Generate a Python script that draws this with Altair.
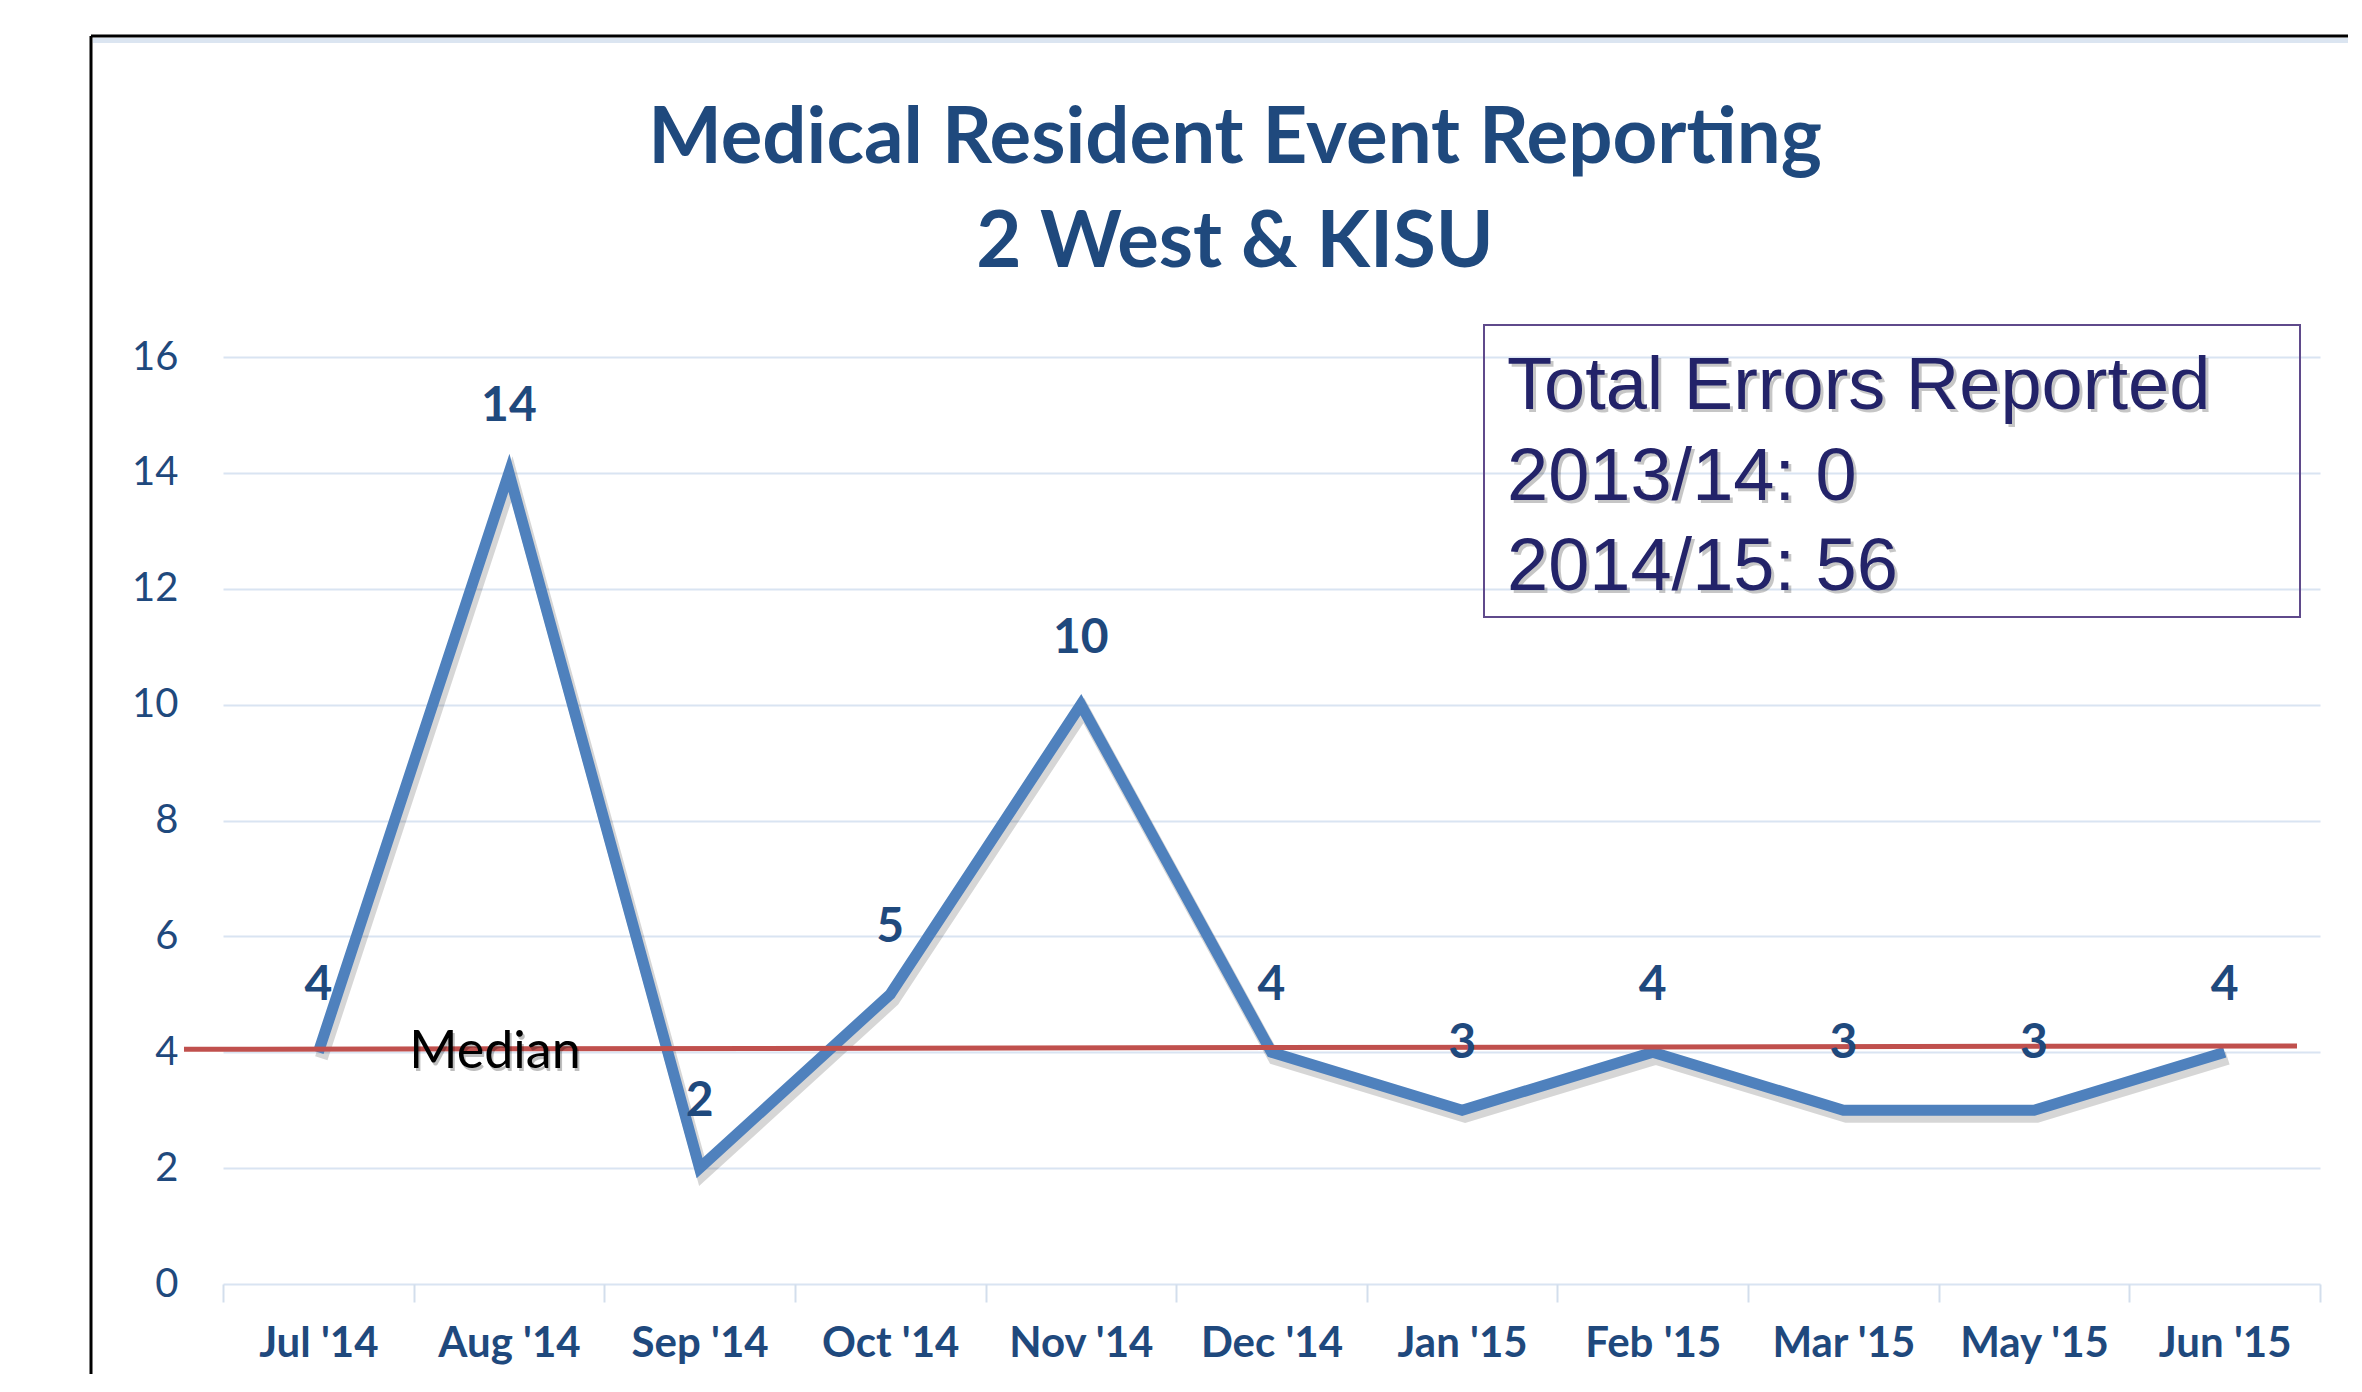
import altair as alt
import pandas as pd

# ---- data ----
months = ["Jul '14", "Aug '14", "Sep '14", "Oct '14", "Nov '14", "Dec '14",
          "Jan '15", "Feb '15", "Mar '15", "May '15", "Jun '15"]
errors = [4, 14, 2, 5, 10, 4, 3, 4, 3, 3, 4]
median_line = [4.05, 4.11]          # drawn median line (left end, right end)
median_label = "Median"
title_lines = ["Medical Resident Event Reporting", "2 West & KISU"]
box_lines = ["Total Errors Reported", "2013/14: 0", "2014/15: 56"]
y_ticks = [0, 2, 4, 6, 8, 10, 12, 14, 16]

df = pd.DataFrame({"month": months, "value": errors})
one = pd.DataFrame({"a": [0]})

W, H = 2097, 927
NAVY = "#1f497d"
FONT = "Lato"

x_enc = alt.X(
    "month:N",
    scale=alt.Scale(type="band", domain=months, paddingInner=0, paddingOuter=0),
    bandPosition=0.5,
    axis=alt.Axis(
        title=None, labelAngle=0, domain=False, grid=False,
        ticks=True, tickBand="extent", tickColor="#d3deec", tickSize=18, tickWidth=2,
        labelFont=FONT, labelFontSize=42, labelFontWeight="bold", labelColor=NAVY,
        labelBaseline="middle", labelPadding=41,
    ),
)
y_enc = alt.Y(
    "value:Q",
    scale=alt.Scale(domain=[0, 16], nice=False, zero=True),
    axis=alt.Axis(
        title=None, values=y_ticks, format="d", domain=False, ticks=False,
        grid=True, gridColor="#d9e4f2", gridWidth=2,
        labelFont=FONT, labelFontSize=40, labelColor=NAVY, labelPadding=45,
    ),
)

# outer frame: only the left and top edges are visible in the picture
frame_top = alt.Chart(one).mark_rule(color="black", strokeWidth=3).encode(
    x=alt.value(-132), x2=alt.value(2400), y=alt.value(-321))
frame_left = alt.Chart(one).mark_rule(color="black", strokeWidth=3).encode(
    x=alt.value(-132), y=alt.value(-321), y2=alt.value(1200))
strip = alt.Chart(one).mark_rect(fill="#dbe5f1").encode(
    x=alt.value(-130), x2=alt.value(2400), y=alt.value(-319), y2=alt.value(-314))

shadow = alt.Chart(df).mark_line(
    color="#000000", opacity=0.16, strokeWidth=13, strokeJoin="miter",
    xOffset=3, yOffset=6).encode(x=x_enc, y=y_enc)
line = alt.Chart(df).mark_line(
    color="#4f81bd", strokeWidth=11, strokeJoin="miter").encode(x=x_enc, y=y_enc)

med_df = pd.DataFrame({"y1": [median_line[0]], "y2": [median_line[1]]})
median = alt.Chart(med_df).mark_rule(color="#c0504d", strokeWidth=5).encode(
    x=alt.value(-39), x2=alt.value(2074),
    y=alt.Y("y1:Q", scale=alt.Scale(domain=[0, 16], nice=False), title=None),
    y2="y2:Q")

med_txt_df = pd.DataFrame({"month": ["Aug '14"], "value": [4], "label": [median_label]})
median_text_sh = alt.Chart(med_txt_df).mark_text(
    font=FONT, fontSize=52, color="#000000", opacity=0.25, dx=-12, dy=3,
    baseline="middle").encode(x=x_enc, y=y_enc, text="label:N")
median_text = alt.Chart(med_txt_df).mark_text(
    font=FONT, fontSize=52, color="#000000", dx=-14,
    baseline="middle").encode(x=x_enc, y=y_enc, text="label:N")

labels = alt.Chart(df).mark_text(
    font=FONT, fontSize=48, fontWeight="bold", color=NAVY, dy=-66,
    baseline="middle").encode(x=x_enc, y=y_enc, text="value:Q")

box = alt.Chart(one).mark_rect(fillOpacity=0, stroke="#5f4a8b", strokeWidth=2).encode(
    x=alt.value(1261), x2=alt.value(2077), y=alt.value(-32), y2=alt.value(260))
box_text_sh = alt.Chart(one).mark_text(
    text=box_lines, font="Liberation Sans", fontSize=74, color="#000000", opacity=0.22,
    align="left", baseline="alphabetic", lineHeight=90.5).encode(
    x=alt.value(1287), y=alt.value(55))
box_text = alt.Chart(one).mark_text(
    text=box_lines, font="Liberation Sans", fontSize=74, color="#232369",
    align="left", baseline="alphabetic", lineHeight=90.5).encode(
    x=alt.value(1284), y=alt.value(52))

title = alt.Chart(one).mark_text(
    text=title_lines, font=FONT, fontSize=78, fontWeight="bold", color=NAVY,
    align="center", baseline="alphabetic", lineHeight=104).encode(
    x=alt.value(1012), y=alt.value(-194))

chart = alt.layer(
    frame_top, frame_left, strip, shadow, line, median, median_text_sh, median_text,
    labels, box, box_text_sh, box_text, title,
).properties(
    width=W, height=H,
    autosize=alt.AutoSizeParams(type="none"),
    padding={"left": 215, "top": 349, "right": 28, "bottom": 90},
    background="white",
).configure_view(strokeWidth=0)

chart.save("out.html", embed_options={"renderer": "svg", "actions": False})
